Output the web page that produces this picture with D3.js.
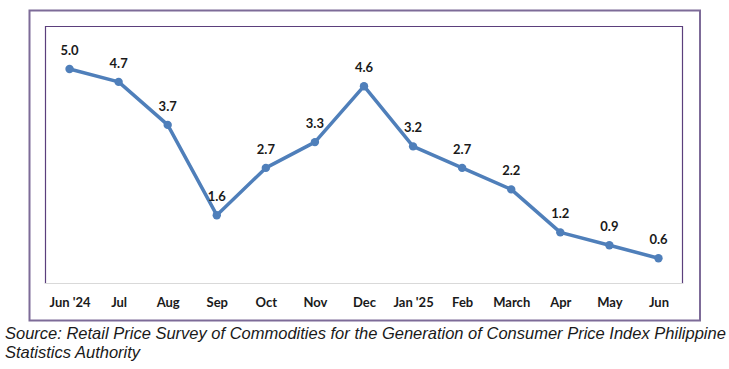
<!DOCTYPE html>
<html lang="en">
<head>
    <meta charset="UTF-8">
    <title>Retail price index chart</title>
    <style>
        body {
            margin: 0;
            background: #ffffff;
        }
        svg {
            display: block;
        }
        .point-label {
            font-family: Lato, "Open Sans", sans-serif;
            font-weight: bold;
            font-size: 13px;
            fill: #1a1a1a;
        }
        .month-label {
            font-family: Lato, "Open Sans", sans-serif;
            font-weight: bold;
            font-size: 13px;
            fill: #1a1a1a;
        }
        .source {
            font-family: "Liberation Sans", Arial, sans-serif;
            font-style: italic;
            font-size: 16.5px;
            fill: #1a1a1a;
        }
    </style>
</head>
<body>
<svg width="729" height="369"></svg>

<script src="https://d3js.org/d3.v7.min.js"></script>
<script>
    // Months and the values
    const months = ["Jun '24", "Jul", "Aug", "Sep", "Oct", "Nov", "Dec", "Jan '25", "Feb", "March", "Apr", "May", "Jun"];
    const values = [5.0, 4.7, 3.7, 1.6, 2.7, 3.3, 4.6, 3.2, 2.7, 2.2, 1.2, 0.9, 0.6];
    const sourceLines = [
        "Source: Retail Price Survey of Commodities for the Generation of Consumer Price Index Philippine",
        "Statistics Authority"
    ];

    const svg = d3.select("svg");

    // plot area (inner frame)
    const plot = { left: 45, top: 26, right: 683, bottom: 284 };

    const x = d3.scalePoint()
        .domain(months)
        .range([plot.left, plot.right])
        .padding(0.5);

    const y = d3.scaleLinear()
        .domain([0, 6])
        .range([plot.bottom, plot.top]);

    // outer frame
    svg.append("rect")
        .attr("x", 29.5)
        .attr("y", 10.5)
        .attr("width", 670.5)
        .attr("height", 310)
        .attr("fill", "none")
        .attr("stroke", "#7d6b98")
        .attr("stroke-width", 2);

    // inner frame: left, top, right in purple
    svg.append("path")
        .attr("d", `M${plot.left + 0.5},${plot.bottom} V${plot.top + 0.5} H${plot.right - 0.5} V${plot.bottom}`)
        .attr("fill", "none")
        .attr("stroke", "#5b3f7c")
        .attr("stroke-width", 1.2);

    // bottom axis line
    svg.append("line")
        .attr("x1", plot.left)
        .attr("x2", plot.right)
        .attr("y1", plot.bottom - 0.5)
        .attr("y2", plot.bottom - 0.5)
        .attr("stroke", "#d9d9d9")
        .attr("stroke-width", 1);

    // month labels via axis
    const xAxis = svg.append("g")
        .attr("transform", `translate(0,${plot.bottom})`)
        .call(d3.axisBottom(x).tickSize(0).tickPadding(14));
    xAxis.select(".domain").remove();
    xAxis.selectAll("text")
        .attr("class", "month-label")
        .attr("fill", null)
        .style("font-size", null)
        .style("font-family", null);

    // the line
    const line = d3.line()
        .x((d, i) => x(months[i]))
        .y(d => y(d));

    svg.append("path")
        .datum(values)
        .attr("d", line)
        .attr("fill", "none")
        .attr("stroke", "#4f7fba")
        .attr("stroke-width", 3.5)
        .attr("stroke-linejoin", "round");

    svg.selectAll("circle.pt")
        .data(values)
        .join("circle")
        .attr("class", "pt")
        .attr("cx", (d, i) => x(months[i]))
        .attr("cy", d => y(d))
        .attr("r", 4.2)
        .attr("fill", "#4f7fba");

    svg.selectAll("text.point-label")
        .data(values)
        .join("text")
        .attr("class", "point-label")
        .attr("x", (d, i) => x(months[i]))
        .attr("y", d => y(d) - 14)
        .attr("text-anchor", "middle")
        .text(d => d.toFixed(1));

    // source note
    svg.selectAll("text.source")
        .data(sourceLines)
        .join("text")
        .attr("class", "source")
        .attr("x", 5)
        .attr("y", (d, i) => 339 + i * 19)
        .text(d => d);
</script>
</body>
</html>
